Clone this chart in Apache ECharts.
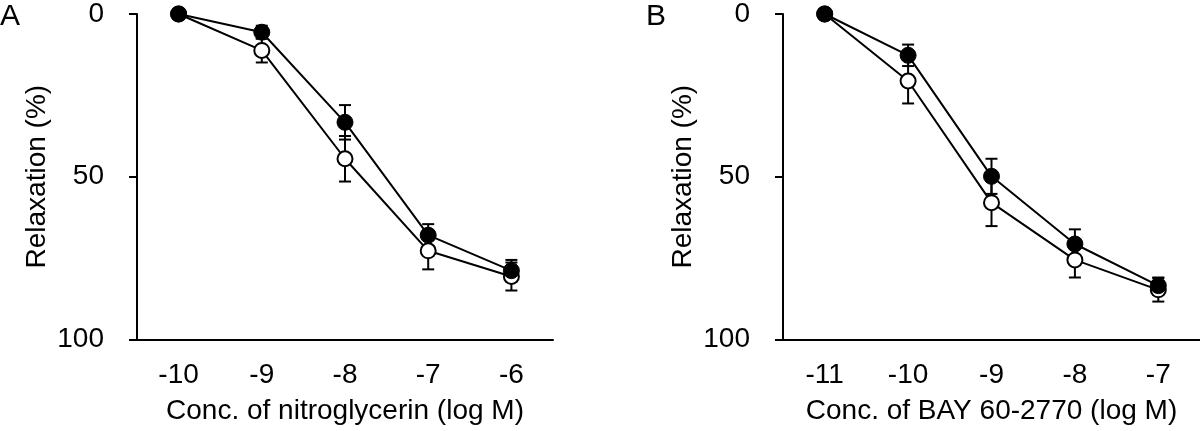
<!DOCTYPE html>
<html>
<head>
<meta charset="utf-8">
<script src="https://cdn.jsdelivr.net/npm/echarts@6/dist/echarts.min.js"></script>
<style>
html,body{margin:0;padding:0;background:#fff;}
#c{width:1200px;height:431px;}
</style>
</head>
<body>
<div id="c"></div>
<script>
// ---- data ----
const catsA = ['-10', '-9', '-8', '-7', '-6'];
const catsB = ['-11', '-10', '-9', '-8', '-7'];
const yTicks = [0, 50, 100];

const filledA = [0, 5.6, 33.3, 68.0, 78.9];
const filledASem = [0, 2.0, 5.3, 3.4, 3.3];
const openA = [0, 11.2, 44.5, 72.8, 80.7];
const openASem = [0, 3.7, 7.0, 5.7, 4.3];

const filledB = [0, 12.7, 49.9, 70.7, 83.5];
const filledBSem = [0, 3.3, 5.4, 4.5, 2.5];
const openB = [0, 20.6, 58.0, 75.6, 84.8];
const openBSem = [0, 6.9, 7.2, 5.4, 3.6];

const xNameA = 'Conc. of nitroglycerin (log M)';
const xNameB = 'Conc. of BAY 60-2770 (log M)';
const yName = 'Relaxation (%)';

// ---- chart ----
const FONT = 'Liberation Sans, Arial, sans-serif';
const FS = 28;
const chart = echarts.init(document.getElementById('c'), null, {renderer: 'canvas'});

function errData(means, sems) {
  return means.map((m, i) => [i, m, sems[i]]);
}
function errRender(params, api) {
  const x = api.value(0), m = api.value(1), s = api.value(2);
  if (!s) return {type: 'group', children: []};
  const a = api.coord([x, m - s]);
  const b = api.coord([x, m + s]);
  const hw = 6;
  const st = {stroke: '#000', lineWidth: 2};
  return {type: 'group', children: [
    {type: 'line', shape: {x1: a[0], y1: a[1], x2: b[0], y2: b[1]}, style: st},
    {type: 'line', shape: {x1: a[0] - hw, y1: a[1], x2: a[0] + hw, y2: a[1]}, style: st},
    {type: 'line', shape: {x1: b[0] - hw, y1: b[1], x2: b[0] + hw, y2: b[1]}, style: st}
  ]};
}

function xAxis(idx, cats, name) {
  return {
    type: 'category', gridIndex: idx, data: cats, boundaryGap: true,
    name: name, nameLocation: 'middle', nameGap: 58,
    nameTextStyle: {fontFamily: FONT, fontSize: FS, color: '#000'},
    axisLine: {onZero: false, lineStyle: {color: '#000', width: 2}},
    axisTick: {alignWithLabel: true, length: 7, lineStyle: {color: '#000', width: 2}},
    axisLabel: {fontFamily: FONT, fontSize: FS, color: '#000', margin: 22, interval: 0},
    splitLine: {show: false}
  };
}
function yAxis(idx) {
  return {
    type: 'value', gridIndex: idx, inverse: true, min: yTicks[0], max: yTicks[yTicks.length - 1], interval: 50,
    name: yName, nameLocation: 'middle', nameGap: 86, nameRotate: 90,
    nameTextStyle: {fontFamily: FONT, fontSize: FS, color: '#000'},
    axisLine: {show: true, lineStyle: {color: '#000', width: 2}},
    axisTick: {show: true, length: 8, lineStyle: {color: '#000', width: 2}},
    axisLabel: {fontFamily: FONT, fontSize: FS, color: '#000', margin: 33},
    splitLine: {show: false}
  };
}
function lineSeries(idx, vals, filled) {
  return {
    type: 'line', xAxisIndex: idx, yAxisIndex: idx, data: vals,
    symbol: 'circle', symbolSize: filled ? 16 : 15, showSymbol: true,
    lineStyle: {color: '#000', width: 2},
    itemStyle: filled ? {color: '#000', borderColor: '#000', borderWidth: 1}
                      : {color: '#fff', borderColor: '#000', borderWidth: 2},
    z: filled ? 4 : 3, animation: false, silent: true
  };
}
function errSeries(idx, means, sems) {
  return {
    type: 'custom', xAxisIndex: idx, yAxisIndex: idx,
    data: errData(means, sems), renderItem: errRender,
    encode: {x: 0, y: 1}, z: 2, animation: false, silent: true
  };
}

chart.setOption({
  backgroundColor: '#fff',
  animation: false,
  grid: [
    {left: 137, top: 12.7, width: 416, height: 326.6},
    {left: 783, top: 12.7, width: 417, height: 326.6}
  ],
  xAxis: [xAxis(0, catsA, xNameA), xAxis(1, catsB, xNameB)],
  yAxis: [yAxis(0), yAxis(1)],
  graphic: [
    {type: 'text', left: 0, top: 2, style: {text: 'A', fontFamily: FONT, fontSize: 30, fill: '#000'}},
    {type: 'text', left: 646, top: 2, style: {text: 'B', fontFamily: FONT, fontSize: 30, fill: '#000'}}
  ],
  series: [
    errSeries(0, openA, openASem),
    errSeries(0, filledA, filledASem),
    lineSeries(0, openA, false),
    lineSeries(0, filledA, true),
    errSeries(1, openB, openBSem),
    errSeries(1, filledB, filledBSem),
    lineSeries(1, openB, false),
    lineSeries(1, filledB, true)
  ]
});
</script>
</body>
</html>
